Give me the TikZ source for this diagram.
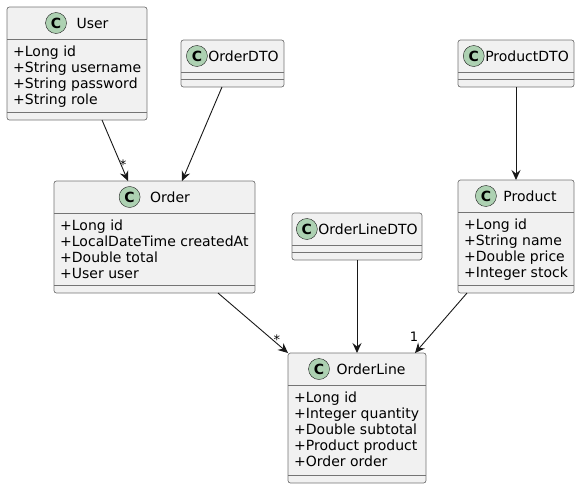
\documentclass[tikz,border=0pt]{standalone}
\usepackage{fontspec}
\setmainfont{DejaVu Sans}
\usetikzlibrary{positioning,arrows.meta}
\definecolor{boxfill}{HTML}{F1F1F1}
\definecolor{boxline}{HTML}{181818}
\definecolor{spotfill}{HTML}{ADD1B2}

\begin{document}
\begin{tikzpicture}[x=1pt,y=-1pt,
  classbox/.style={draw=boxline!60, fill=boxfill, line width=0.7pt, rounded corners=2.5pt, inner sep=0pt, outer sep=0pt},
  hrule/.style={draw=boxline!60, line width=0.7pt},
  cspot/.style={draw=boxline, fill=spotfill, circle, minimum size=21pt, inner sep=0pt, outer sep=0pt, font=\fontsize{14}{16}\selectfont\bfseries},
  cname/.style={inner sep=0pt, outer sep=0pt, font=\fontsize{14}{16}\selectfont},
  cattr/.style={anchor=base west, inner sep=0pt, font=\fontsize{14}{16}\selectfont},
  assoc/.style={draw=boxline, line width=0.9pt, -{Stealth[length=10pt,width=9pt,inset=3.5pt]}},
  mult/.style={inner sep=0pt, font=\fontsize{13}{15}\selectfont}]
\useasboundingbox (0,0) rectangle (580,488);
\newcommand\umlclass[8]{
\node[classbox, minimum width=#4pt, minimum height=#5pt, anchor=north west] (#1) at (#2,#3) {};
\path[hrule] ([yshift=-32pt]#1.north west) -- ([yshift=-32pt]#1.north east);
\path[hrule] ([yshift=8pt]#1.south west) -- ([yshift=8pt]#1.south east);
\node[cname] (#1-name) at ([xshift={(21pt+#7pt)/2}, yshift=-16pt]#1.north) {#6};
\node[cspot, left=#7pt of #1-name] (#1-spot) {C};
\ifx\relax#8\relax\else
\foreach \a [count=\i] in {#8}
  \node[cattr] (#1-attr\i) at ([xshift=6pt, yshift={-33pt-16pt*\i}]#1.north west) {\a};
\fi
}

\umlclass{user}{7}{7}{140}{113}{User}{10}{+Long id,+String username,+String password,+String role}
\umlclass{orderdto}{181}{40}{103}{47}{OrderDTO}{1}{}
\umlclass{productdto}{458}{40}{116}{47}{ProductDTO}{1}{}
\umlclass{order}{54}{181}{201}{112}{Order}{10}{+Long id,+LocalDateTime createdAt,+Double total,+User user}
\umlclass{orderlinedto}{292}{213}{130}{47}{OrderLineDTO}{1}{}
\umlclass{product}{458}{180}{116}{113}{Product}{7}{+Long id,+String name,+Double price,+Integer stock}
\umlclass{orderline}{288}{353}{138}{130}{OrderLine}{7}{+Long id,+Integer quantity,+Double subtotal,+Product product,+Order order}

\path[assoc] ([xshift=25pt]user.south) -- node[mult, pos=0.7, xshift=3pt, yshift=-2pt] (m1) {*} ([xshift=-26.5pt]order.north);
\path[assoc] ([xshift=-10.5pt]orderdto.south) -- ([xshift=27.5pt]order.north);
\path[assoc] (productdto.south) -- (product.north);
\path[assoc] (orderlinedto.south) -- (orderline.north);
\path[assoc] ([xshift=63.5pt]order.south) -- node[mult, pos=0.84, yshift=4pt] (m2) {*} (orderline.north west);
\path[assoc] ([xshift=-49pt]product.south) -- node[mult, pos=0.733, xshift=-15pt] (m3) {1} ([xshift=58pt]orderline.north);
\end{tikzpicture}
\end{document}
